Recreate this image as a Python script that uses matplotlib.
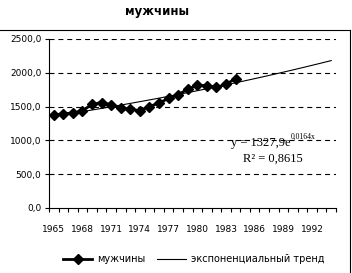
import numpy as np
import matplotlib
matplotlib.use("Agg")
import matplotlib.pyplot as plt
from matplotlib.lines import Line2D

plt.rcParams["font.family"] = "DejaVu Sans"
plt.rcParams["font.size"] = 6.5

# ---------- Data ----------
years = list(range(1965, 1995))          # category axis 1965..1994
men = [1376, 1395, 1405, 1438, 1534, 1560, 1530, 1480, 1462, 1440,
       1500, 1555, 1620, 1678, 1756, 1819, 1809, 1785, 1829, 1915]
yticks = [0, 500, 1000, 1500, 2000, 2500]
title = "мужчины"
eq_main = "y = 1327,9e"
eq_exp = "0,0164x"
r2_text = "R\u00b2 = 0,8615"

# exponential trend fitted to the series, extended over all categories
xs_fit = np.arange(1, len(men) + 1)
b, ln_a = np.polyfit(xs_fit, np.log(men), 1)
xs_trend = np.arange(1, len(years) + 1)
trend = np.exp(ln_a) * np.exp(b * xs_trend)

# ---------- Plot ----------
W, H = 352, 273
fig = plt.figure(figsize=(W / 100, H / 100), dpi=100)
ax = fig.add_axes([49 / W, 1 - 208 / H, (336 - 49) / W, (208 - 39) / H])

for v in yticks[1:]:
    ax.axhline(v, color="black", lw=0.8, dashes=(4.5, 3.5), zorder=1)

idx = np.arange(len(men))
ax.plot(idx, men, color="black", lw=2, marker="D", ms=5.5, zorder=3)
ax.plot(xs_trend - 1, trend, color="black", lw=0.8, zorder=2)

ax.set_xlim(-0.5, len(years) - 0.5)
ax.set_ylim(0, 2500)
ax.set_yticks(yticks)
ax.set_yticklabels([f"{v:.1f}".replace(".", ",") for v in yticks])

ax.set_xticks(np.arange(len(years) + 1) - 0.5)
ax.set_xticklabels([])
ax.set_xticks(np.arange(0, len(years), 3), minor=True)
ax.set_xticklabels([str(y) for y in years[::3]], minor=True)
ax.tick_params(axis="x", which="minor", length=0, pad=12)
ax.tick_params(axis="both", which="major", length=3, width=0.8, direction="out", pad=2.5)
for s in ("top", "right"):
    ax.spines[s].set_visible(False)
for s in ("left", "bottom"):
    ax.spines[s].set_linewidth(0.8)

# equation labels
t1 = fig.text(231 / W, 1 - 146 / H, eq_main, family="Liberation Serif", fontsize=9, va="baseline")
ax.annotate(eq_exp, xy=(1, 0.7), xycoords=t1, family="Liberation Serif", fontsize=5.5, va="bottom", ha="left")
fig.text(243 / W, 1 - 162 / H, r2_text, family="Liberation Serif", fontsize=9, va="baseline")

fig.text(157 / W, 1 - 12 / H, title, ha="center", va="center", fontsize=8.5, weight="bold")

handles = [
    Line2D([], [], color="black", lw=2, marker="D", ms=5.5),
    Line2D([], [], color="black", lw=0.8),
]
fig.legend(handles, ["мужчины", "экспоненциальный тренд"], loc="center",
           bbox_to_anchor=(194 / W, 1 - 259 / H), ncol=2, frameon=False,
           fontsize=7, handlelength=3, columnspacing=1.2, handletextpad=0.5)

# chart border (top and right edges visible)
fig.add_artist(Line2D([0, 350 / W], [1 - 30 / H] * 2, color="black", lw=0.8))
fig.add_artist(Line2D([350 / W] * 2, [1 - 30 / H, 0], color="black", lw=0.8))

fig.savefig("out.png", dpi=100)
